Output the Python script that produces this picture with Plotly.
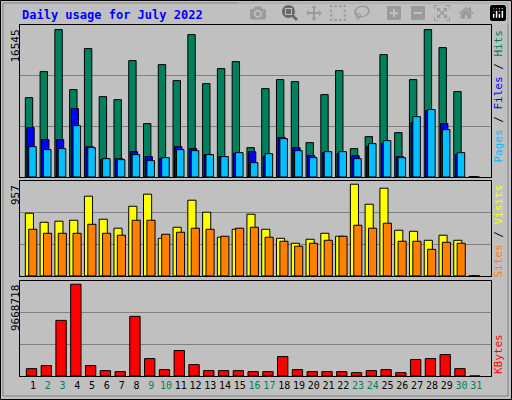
import plotly.graph_objects as go
from plotly.subplots import make_subplots

days = list(range(1, 32))
hits = [8908,11828,16545,9807,14411,9021,8684,13063,5989,12614,10817,15983,10480,12165,12951,3294,9919,10930,10705,3855,9245,11940,3182,4529,13737,4978,10930,16545,14523,9582,0]
files = [5540,4192,4192,7673,3406,1984,2059,2845,2283,2096,3406,3182,2508,2283,2658,2845,2321,4417,3294,2396,2732,2620,2396,3444,3743,2283,6101,7449,5989,2508,0]
pages = [3406,3069,3182,5764,3294,2059,1946,2508,1834,2171,3069,2957,2508,2283,2732,1609,2620,4304,2957,2171,2845,2845,2059,3743,4080,2171,6775,7561,5315,2732,0]
visits = [654,560,571,581,832,592,498,727,853,393,508,790,665,404,487,644,487,393,341,383,445,414,957,748,915,477,466,372,425,372,0]
sites = [487,445,445,445,539,445,425,581,581,435,456,498,487,414,498,508,404,362,310,341,372,414,529,498,550,362,362,278,351,341,0]
kbytes = [776000,1094000,5858000,9668718,1094000,565000,459000,6281000,1835000,670000,2682000,1200000,565000,565000,565000,459000,459000,2047000,670000,459000,459000,459000,353000,565000,670000,353000,1729000,1835000,2258000,776000,0]
weekend = [2,3,9,10,16,17,23,24,30,31]
ticktext = [f"<span style='color:#00805c'>{d}</span>" if d in weekend else str(d) for d in days]

fig = make_subplots(rows=3, cols=1, shared_xaxes=True)
line = dict(color="black", width=1)
def bar(y, color, off, w, row):
    fig.add_trace(go.Bar(x=days, y=y, marker=dict(color=color, line=line), offset=off, width=w), row=row, col=1)
bar(hits, "#00805c", -0.52, 0.5, 1)
bar(files, "#0000ff", -0.42, 0.5, 1)
bar(pages, "#00c0ff", -0.29, 0.51, 1)
bar(visits, "#ffff00", -0.52, 0.55, 2)
bar(sites, "#ff8000", -0.29, 0.55, 2)
bar(kbytes, "#ff0000", -0.45, 0.7, 3)

font = dict(family="DejaVu Sans Mono", size=11, color="black")
fig.update_layout(
    width=512, height=400, showlegend=False, barmode="overlay",
    paper_bgcolor="#c0c0c0", plot_bgcolor="#c0c0c0",
    margin=dict(l=20, r=21, t=25, b=24), font=font,
    yaxis=dict(domain=[0.567, 1]), yaxis2=dict(domain=[0.285, 0.556]), yaxis3=dict(domain=[0, 0.271]),
)
ranges = [17060, 992, 10017800]
for i, r in enumerate(ranges, start=1):
    fig.update_yaxes(range=[0, r], tickvals=[r/3, 2*r/3], showticklabels=False, gridcolor="#808080",
                     gridwidth=1, showline=True, linecolor="black", mirror=True, zeroline=False,
                     automargin=False, row=i, col=1)
    fig.update_xaxes(range=[0.12, 32.0], showline=True, linecolor="black", mirror=True, showgrid=False,
                     tickvals=days, ticktext=ticktext, ticks="", tickangle=0, automargin=False, row=i, col=1)
fig.update_xaxes(showticklabels=False, row=1, col=1)
fig.update_xaxes(showticklabels=False, row=2, col=1)
fig.update_xaxes(tickfont=dict(family="DejaVu Sans Mono", size=10, color="black"), row=3, col=1)

def px(x): return (x - 20) / 471
def py(y): return (376 - y) / 351
ann = [
    dict(x=px(20), y=py(15), text="<b>Daily usage for July 2022</b>", xanchor="left", yanchor="middle",
         font=dict(family="DejaVu Sans Mono", size=12, color="#0000ff")),
    dict(x=px(15), y=py(28), text="16545", textangle=-90, xanchor="center", yanchor="top"),
    dict(x=px(15), y=py(183), text="957", textangle=-90, xanchor="center", yanchor="top"),
    dict(x=px(15), y=py(283), text="9668718", textangle=-90, xanchor="center", yanchor="top"),
    dict(x=px(498), y=py(28), textangle=-90, xanchor="center", yanchor="top",
         text="<span style='color:#00c0ff'>Pages</span> / <span style='color:#0000ff'>Files</span> / <span style='color:#00805c'>Hits</span>"),
    dict(x=px(498), y=py(183), textangle=-90, xanchor="center", yanchor="top",
         text="<span style='color:#ff8000'>Sites</span> / <span style='color:#ffff00'>Visits</span>"),
    dict(x=px(498), y=py(376), textangle=-90, xanchor="center", yanchor="bottom",
         text="<span style='color:#ff0000'>KBytes</span>"),
]
for a in ann:
    a.update(xref="paper", yref="paper", showarrow=False)
    a.setdefault("font", font)
fig.update_layout(annotations=ann)
fig.add_shape(type="rect", xref="paper", yref="paper", x0=px(0.5), x1=px(511.5), y0=py(399.5), y1=py(0.5),
              line=dict(color="black", width=1))
fig.add_shape(type="rect", xref="paper", yref="paper", x0=px(3), x1=px(508), y0=py(396), y1=py(3),
              line=dict(color="#808080", width=1))
fig.write_html("out.html", post_script="document.body.style.margin='0';document.body.style.overflow='hidden';")
